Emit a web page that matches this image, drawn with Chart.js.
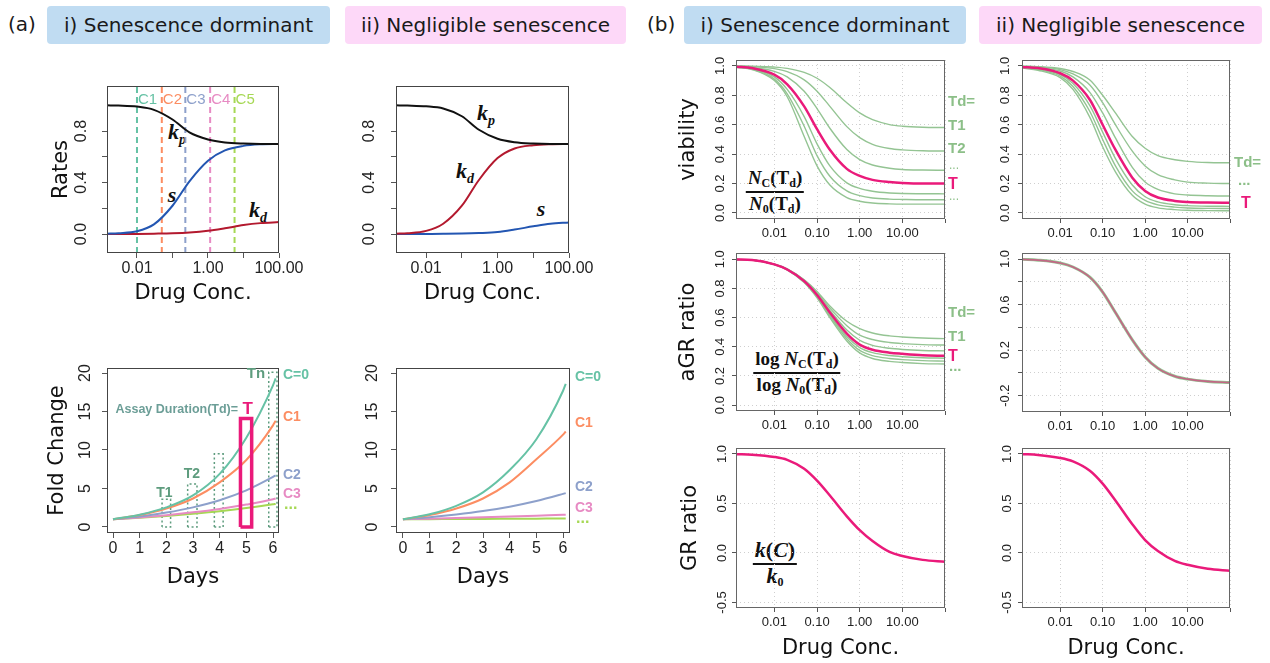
<!DOCTYPE html>
<html>
<head>
<meta charset="utf-8">
<script src="https://cdn.jsdelivr.net/npm/chart.js@4.4.0/dist/chart.umd.min.js"></script>
<style>
  body { margin: 0; background: #fff; }
  #fig { position: relative; width: 1270px; height: 663px; overflow: hidden; font-family: 'DejaVu Sans', sans-serif; color: #1a1a1a; }
  .tag { position: absolute; font-size: 20px; top: 12px; }
  .hdr { position: absolute; top: 6px; height: 38px; border-radius: 4px; font-size: 20px;
         display: flex; align-items: center; justify-content: center; white-space: nowrap; }
  .blue { background: #c0dcf2; }
  .pink { background: #fdd8f8; }
  .m { position: absolute; transform: translate(-50%, -50%); font-family: 'Liberation Serif', 'DejaVu Serif', serif;
       font-style: italic; font-weight: bold; font-size: 22px; color: #111; white-space: nowrap; }
  .m sub { font-size: 14px; vertical-align: -5px; }
  .frac { position: absolute; transform: translate(-50%, -50%); font-family: 'Liberation Serif', 'DejaVu Serif', serif;
          font-weight: bold; font-size: 19px; color: #111; text-align: center; white-space: nowrap; }
  .frac .row { display: block; height: 22px; line-height: 20px; padding: 0 2px; }
  .frac .bar { display: block; height: 2px; background: #111; margin: 1px 0; }
  .frac i { font-style: italic; }
  .frac sub { font-size: 12px; position: relative; top: 3px; vertical-align: baseline; line-height: 0; }
</style>
</head>
<body>
<div id="fig">
  <div class="tag" style="left:8px">(a)</div>
  <div class="hdr blue" style="left:47px;width:283px">i) Senescence dorminant</div>
  <div class="hdr pink" style="left:345px;width:281px">ii) Negligible senescence</div>
  <div class="tag" style="left:647px">(b)</div>
  <div class="hdr blue" style="left:684px;width:282px">i) Senescence dorminant</div>
  <div class="hdr pink" style="left:979px;width:283px">ii) Negligible senescence</div>

  <div class="m" style="left:177px;top:133px">k<sub>p</sub></div>
  <div class="m" style="left:172px;top:195px">s</div>
  <div class="m" style="left:258px;top:211px">k<sub>d</sub></div>
  <div class="m" style="left:486px;top:114px">k<sub>p</sub></div>
  <div class="m" style="left:465px;top:172px">k<sub>d</sub></div>
  <div class="m" style="left:541px;top:209px">s</div>

  <div class="frac" style="left:775px;top:192px">
    <span class="row"><i>N</i><sub>C</sub>(T<sub>d</sub>)</span>
    <span class="bar"></span>
    <span class="row"><i>N</i><sub>0</sub>(T<sub>d</sub>)</span>
  </div>
  <div class="frac" style="left:797px;top:373px">
    <span class="row">log <i>N</i><sub>C</sub>(T<sub>d</sub>)</span>
    <span class="bar"></span>
    <span class="row">log <i>N</i><sub>0</sub>(T<sub>d</sub>)</span>
  </div>
  <div class="frac" style="left:775px;top:564px;font-size:22px">
    <span class="row"><i>k</i>(<i>C</i>)</span>
    <span class="bar"></span>
    <span class="row"><i>k</i><sub>0</sub></span>
  </div>
</div>

<script>
// ---------- (a) rates vs drug concentration ----------
const CONC_A = [0.0014, 0.003, 0.01, 0.03, 0.1, 0.3, 1, 3, 10, 30, 100];
const KP_I  = [1.0, 0.998, 0.99, 0.965, 0.89, 0.79, 0.735, 0.712, 0.703, 0.70, 0.70];
const S_I   = [0.003, 0.007, 0.022, 0.075, 0.22, 0.41, 0.57, 0.65, 0.685, 0.697, 0.70];
const KD_I  = [0.0, 0.0, 0.001, 0.003, 0.006, 0.012, 0.025, 0.045, 0.07, 0.085, 0.093];
const KP_II = [1.0, 0.998, 0.992, 0.975, 0.915, 0.81, 0.74, 0.713, 0.703, 0.70, 0.70];
const KD_II = [0.003, 0.007, 0.025, 0.08, 0.22, 0.42, 0.59, 0.665, 0.69, 0.698, 0.70];
const S_II  = [0.0, 0.0, 0.001, 0.002, 0.004, 0.008, 0.016, 0.035, 0.06, 0.08, 0.09];
const C_LINES = [0.01, 0.05, 0.23, 1.15, 5.6];
const C_NAMES = ['C1', 'C2', 'C3', 'C4', 'C5'];

// ---------- (a) fold change vs days ----------
const DAYS = [0, 1, 2, 3, 4, 5, 6, 6.1];
const FC_I_C0 = [1, 1.6, 2.55, 4.1, 6.9, 11.6, 18.4, 19.3];
const FC_I_C1 = [1, 1.55, 2.4, 3.7, 5.8, 8.7, 13.2, 13.8];
const FC_I_C2 = [1, 1.37, 1.87, 2.55, 3.48, 4.76, 6.5, 6.7];
const FC_I_C3 = [1, 1.24, 1.53, 1.9, 2.35, 2.91, 3.6, 3.7];
const FC_I_C4 = [1, 1.2, 1.43, 1.72, 2.05, 2.46, 2.94, 3.0];
const FC_II_C0 = [1, 1.65, 2.75, 4.5, 7.4, 11.4, 17.7, 18.6];
const FC_II_C1 = [1, 1.55, 2.4, 3.7, 5.8, 8.8, 12.0, 12.4];
const FC_II_C2 = [1, 1.28, 1.63, 2.07, 2.64, 3.37, 4.3, 4.4];
const FC_II_C3 = [1, 1.08, 1.17, 1.26, 1.36, 1.47, 1.59, 1.6];
const FC_II_C4 = [1, 1.02, 1.03, 1.05, 1.065, 1.08, 1.1, 1.1];
const BOX_LEFT  = [1.84, 2.8, 3.8, 4.78, 5.84];
const BOX_RIGHT = [2.16, 3.15, 4.13, 5.2, 6.15];
const BOX_TOP   = [3.6, 5.6, 9.5, 14.1, 20.1];

// ---------- (b) viability / aGR / GR ----------
const CONC_B = [0.0013, 0.003, 0.01, 0.02, 0.05, 0.1, 0.2, 0.5, 1, 2, 5, 10, 30, 100];
const VIAB_I_T1 = [0.999, 0.998, 0.992, 0.983, 0.956, 0.916, 0.853, 0.749, 0.68, 0.634, 0.601, 0.59, 0.583, 0.581];
const VIAB_I_T2 = [0.998, 0.995, 0.981, 0.961, 0.905, 0.828, 0.725, 0.587, 0.512, 0.467, 0.438, 0.429, 0.423, 0.421];
const VIAB_I_T3 = [0.996, 0.99, 0.963, 0.925, 0.827, 0.71, 0.576, 0.431, 0.363, 0.326, 0.304, 0.296, 0.292, 0.29];
const VIAB_I_T  = [0.994, 0.985, 0.94, 0.875, 0.725, 0.57, 0.43, 0.30, 0.252, 0.225, 0.21, 0.204, 0.2, 0.2];
const VIAB_I_T5 = [0.992, 0.982, 0.925, 0.84, 0.655, 0.47, 0.32, 0.205, 0.167, 0.148, 0.136, 0.132, 0.131, 0.13];
const VIAB_I_T6 = [0.99, 0.978, 0.91, 0.81, 0.59, 0.39, 0.25, 0.15, 0.118, 0.102, 0.094, 0.092, 0.09, 0.09];
const VIAB_I_T7 = [0.99, 0.975, 0.90, 0.79, 0.52, 0.32, 0.19, 0.105, 0.08, 0.068, 0.062, 0.06, 0.06, 0.06];
const VIAB_II_T1 = [0.998, 0.995, 0.982, 0.962, 0.904, 0.80, 0.68, 0.52, 0.44, 0.39, 0.362, 0.351, 0.343, 0.341];
const VIAB_II_T2 = [0.997, 0.993, 0.975, 0.945, 0.87, 0.75, 0.60, 0.42, 0.32, 0.26, 0.225, 0.21, 0.203, 0.2];
const VIAB_II_T3 = [0.995, 0.99, 0.965, 0.925, 0.82, 0.68, 0.51, 0.31, 0.21, 0.16, 0.13, 0.122, 0.117, 0.115];
const VIAB_II_T  = [0.993, 0.985, 0.95, 0.90, 0.77, 0.60, 0.43, 0.24, 0.15, 0.105, 0.082, 0.075, 0.071, 0.07];
const VIAB_II_T5 = [0.99, 0.98, 0.94, 0.88, 0.73, 0.55, 0.37, 0.19, 0.11, 0.075, 0.056, 0.05, 0.046, 0.045];
const VIAB_II_T6 = [0.99, 0.975, 0.93, 0.86, 0.69, 0.50, 0.32, 0.15, 0.085, 0.055, 0.04, 0.034, 0.031, 0.03];
const VIAB_II_T7 = [0.985, 0.97, 0.92, 0.84, 0.65, 0.45, 0.28, 0.12, 0.06, 0.035, 0.023, 0.018, 0.016, 0.015];
const AGR_I_T1 = [0.998, 0.995, 0.966, 0.935, 0.86, 0.78, 0.68, 0.575, 0.525, 0.495, 0.475, 0.467, 0.46, 0.456];
const AGR_I_T2 = [0.998, 0.995, 0.966, 0.933, 0.857, 0.77, 0.665, 0.545, 0.48, 0.45, 0.43, 0.422, 0.415, 0.412];
const AGR_I_T3 = [0.998, 0.995, 0.965, 0.932, 0.853, 0.762, 0.65, 0.515, 0.445, 0.41, 0.39, 0.382, 0.375, 0.372];
const AGR_I_T  = [0.998, 0.995, 0.965, 0.93, 0.85, 0.755, 0.635, 0.49, 0.415, 0.38, 0.36, 0.352, 0.342, 0.338];
const AGR_I_T5 = [0.998, 0.995, 0.965, 0.93, 0.847, 0.748, 0.62, 0.47, 0.395, 0.36, 0.34, 0.332, 0.325, 0.322];
const AGR_I_T6 = [0.998, 0.995, 0.964, 0.928, 0.843, 0.742, 0.61, 0.455, 0.375, 0.34, 0.32, 0.312, 0.305, 0.302];
const AGR_I_T7 = [0.998, 0.995, 0.964, 0.927, 0.84, 0.735, 0.60, 0.44, 0.358, 0.32, 0.30, 0.292, 0.285, 0.282];
const AGR_II = [0.997, 0.99, 0.965, 0.93, 0.84, 0.71, 0.53, 0.29, 0.14, 0.04, -0.03, -0.055, -0.075, -0.085];
const GR_I  = [0.998, 0.993, 0.97, 0.94, 0.85, 0.73, 0.58, 0.37, 0.23, 0.12, 0.01, -0.03, -0.07, -0.09];
const GR_II = [0.998, 0.99, 0.96, 0.925, 0.83, 0.70, 0.53, 0.29, 0.13, 0.02, -0.08, -0.12, -0.16, -0.18];

// ---------- ticks ----------
const LOG_TICKS = [0.01, 0.1, 1, 10, 100];
const LOG_LABELS_A = ['0.01', '', '1.00', '', '100.00'];
const LOG_LABELS_B = ['0.01', '0.10', '1.00', '10.00', ''];
const RATE_TICKS = [0, 0.2, 0.4, 0.6, 0.8];
const RATE_LABELS = ['0.0', '', '0.4', '', '0.8'];
const DAY_TICKS = [0, 1, 2, 3, 4, 5, 6];
const FC_TICKS = [0, 5, 10, 15, 20];
const UNIT_TICKS = [0, 0.2, 0.4, 0.6, 0.8, 1.0];
const UNIT_LABELS = ['0.0', '0.2', '0.4', '0.6', '0.8', '1.0'];
const AGR2_TICKS = [-0.2, 0, 0.2, 0.4, 0.6, 0.8, 1.0];
const AGR2_LABELS = ['-0.2', '', '0.2', '', '0.6', '', '1.0'];
const GR_TICKS = [-0.5, 0, 0.5, 1.0];
const GR_LABELS = ['-0.5', '0.0', '0.5', '1.0'];

const SET2 = ['#66c2a5', '#fc8d62', '#8da0cb', '#e78ac3', '#a6d854'];
const BLACK = '#111111', BLUE = '#2356b2', RED = '#b3192e';
const GREEN = '#94c493', PINK = '#ea1a7a', TGREEN = '#5e9c7e', LGREEN = '#8cbf88';
const TICK_FAMILY = "'Liberation Sans', Arial, sans-serif";
const TITLE_FONT = { family: "'DejaVu Sans', sans-serif", size: 21 };
const NOTE = "'Liberation Sans', Arial, sans-serif";

function pts(xs, ys) { return xs.map((x, i) => ({ x: x, y: ys[i] })); }
function curve(xs, ys, color, width) {
  return { data: pts(xs, ys), borderColor: color, borderWidth: width, pointRadius: 0, fill: false,
           cubicInterpolationMode: 'monotone' };
}
function segs(xs, ys, color, width, dash) {
  return { data: pts(xs, ys), borderColor: color, borderWidth: width, borderDash: dash || [],
           pointRadius: 0, fill: false, tension: 0 };
}
function widest(labels, size) {
  const c = document.createElement('canvas').getContext('2d');
  c.font = size + 'px ' + TICK_FAMILY;
  return Math.max.apply(null, labels.map(l => c.measureText(l).width));
}
function framePlugin(color) {
  return { id: 'frame', afterDatasetsDraw(chart) {
    const { ctx, chartArea: a } = chart;
    ctx.save();
    ctx.strokeStyle = color; ctx.lineWidth = 1;
    ctx.strokeRect(a.left + 0.5, a.top + 0.5, a.width - 1, a.height - 1);
    ctx.restore();
  } };
}
function notesPlugin(items) {
  return { id: 'notes', afterDatasetsDraw(chart) {
    const { ctx, chartArea: a, scales } = chart;
    items.forEach(n => {
      ctx.save();
      ctx.font = n.font; ctx.fillStyle = n.color;
      ctx.textAlign = n.align || 'left'; ctx.textBaseline = 'middle';
      const px = n.dx !== undefined ? a.right + n.dx : scales.x.getPixelForValue(n.x) + (n.ox || 0);
      ctx.fillText(n.text, px, scales.y.getPixelForValue(n.y));
      ctx.restore();
    });
  } };
}

function panel(o) {
  const cv = document.createElement('canvas');
  const left = o.box[0] - o.yW, top = o.box[1] - o.padTop;
  const w = o.box[2] - left + o.padRight, h = o.box[3] - top + o.xH;
  cv.width = w; cv.height = h;
  cv.style.cssText = 'position:absolute;left:' + left + 'px;top:' + top + 'px;width:' + w + 'px;height:' + h + 'px';
  document.getElementById('fig').appendChild(cv);
  const tickFont = { family: TICK_FAMILY, size: o.tickSize };
  const yPad = o.yGap - widest(o.yLabels, o.tickSize) / 2;
  const gridColor = o.grid ? '#cfcfcf' : 'rgba(0,0,0,0)';
  new Chart(cv, {
    type: 'line',
    data: { datasets: o.datasets },
    options: {
      responsive: false, maintainAspectRatio: false, animation: false, events: [],
      layout: { padding: { top: o.padTop, right: o.padRight, left: 0, bottom: 0 } },
      plugins: { legend: { display: false }, tooltip: { enabled: false } },
      scales: {
        x: {
          type: o.xType, min: o.xRange[0], max: o.xRange[1],
          afterBuildTicks: s => { s.ticks = o.xTicks.map(v => ({ value: v })); },
          afterFit: s => { s.height = o.xH; s.paddingLeft = 0; s.paddingRight = 0; },
          ticks: { autoSkip: false, minRotation: 0, maxRotation: 0, padding: o.xPad, font: tickFont, color: '#222',
                   callback: (v, i) => o.xLabels[i] },
          grid: { drawOnChartArea: !!o.grid, color: gridColor, lineWidth: 1, tickLength: o.tl,
                  tickColor: '#555', tickWidth: 1 },
          border: { display: false, dash: [1, 3] },
          title: { display: !!o.xTitle, text: o.xTitle || '', font: TITLE_FONT, color: '#111', padding: 0 }
        },
        y: {
          type: 'linear', min: o.yRange[0], max: o.yRange[1],
          afterBuildTicks: s => { s.ticks = o.yTicks.map(v => ({ value: v })); },
          afterFit: s => { s.width = o.yW; s.paddingTop = 0; s.paddingBottom = 0; },
          ticks: { autoSkip: false, minRotation: 90, maxRotation: 90, crossAlign: 'center', padding: yPad,
                   font: tickFont, color: '#222', callback: (v, i) => o.yLabels[i] },
          grid: { drawOnChartArea: !!o.grid, color: gridColor, lineWidth: 1, tickLength: o.tl,
                  tickColor: '#555', tickWidth: 1 },
          border: { display: false, dash: [1, 3] },
          title: { display: !!o.yTitle, text: o.yTitle || '', font: TITLE_FONT, color: '#111', padding: 0 }
        }
      }
    },
    plugins: [framePlugin(o.frame), notesPlugin(o.notes || [])]
  });
}

const A_X = [0.00143, 100];
const RATE_Y = [-0.147, 1.15];
const FC_Y = [-0.78, 20.65];
const B_X = [0.00126, 100];

const aRate = { xType: 'logarithmic', xRange: A_X, xTicks: LOG_TICKS, xLabels: LOG_LABELS_A, yRange: RATE_Y,
                yTicks: RATE_TICKS, yLabels: RATE_LABELS, tickSize: 16, tl: 5, xPad: 1, xH: 53, padTop: 10,
                frame: '#444', xTitle: 'Drug Conc.' };
const aFold = { xType: 'linear', xTicks: DAY_TICKS, xLabels: DAY_TICKS.map(String), yRange: FC_Y,
                yTicks: FC_TICKS, yLabels: FC_TICKS.map(String), tickSize: 16, tl: 5, xPad: 1, xH: 57, padTop: 10,
                frame: '#444', xTitle: 'Days' };
const bBase = { xType: 'logarithmic', xRange: B_X, xTicks: LOG_TICKS, xLabels: LOG_LABELS_B, tickSize: 13,
                tl: 4, xPad: 3, xH: 32, padTop: 5, frame: '#666', grid: true };

// (a) i  rates
panel(Object.assign({}, aRate, {
  box: [107, 86, 279, 253], yW: 58, padRight: 30, yGap: 20, yTitle: 'Rates',
  datasets: [
    curve(CONC_A, KP_I, BLACK, 2), curve(CONC_A, S_I, BLUE, 2), curve(CONC_A, KD_I, RED, 2)
  ].concat(C_LINES.map((c, i) => segs([c, c], RATE_Y, SET2[i], 2, [6, 4]))),
  notes: C_NAMES.map((t, i) => ({ text: t, x: C_LINES[i], ox: 1, y: 1.046, color: SET2[i],
                                   font: '15px ' + NOTE }))
}));
// (a) ii rates
panel(Object.assign({}, aRate, {
  box: [396, 86, 569, 253], yW: 40, padRight: 30, yGap: 21,
  datasets: [curve(CONC_A, KP_II, BLACK, 2), curve(CONC_A, KD_II, RED, 2), curve(CONC_A, S_II, BLUE, 2)]
}));
// (a) i fold change
panel(Object.assign({}, aFold, {
  box: [107, 368, 279, 533], yW: 62, padRight: 45, yGap: 16, xRange: [-0.225, 6.225], yTitle: 'Fold Change',
  datasets: [
    segs([BOX_LEFT[3], BOX_LEFT[3], BOX_RIGHT[3], BOX_RIGHT[3], BOX_LEFT[3]], [0, BOX_TOP[3], BOX_TOP[3], 0, 0], PINK, 3.5),
    curve(DAYS, FC_I_C0, SET2[0], 2), curve(DAYS, FC_I_C1, SET2[1], 2), curve(DAYS, FC_I_C2, SET2[2], 2),
    curve(DAYS, FC_I_C3, SET2[3], 2), curve(DAYS, FC_I_C4, SET2[4], 2)
  ].concat([0, 1, 2, 4].map(i => segs([BOX_LEFT[i], BOX_LEFT[i], BOX_RIGHT[i], BOX_RIGHT[i], BOX_LEFT[i]],
                                       [0, BOX_TOP[i], BOX_TOP[i], 0, 0], TGREEN, 1.5, [2, 2.5]))),
  notes: [
    { text: 'T1', x: 1.93, y: 4.4, align: 'center', color: TGREEN, font: 'bold 14px ' + NOTE },
    { text: 'T2', x: 2.96, y: 6.9, align: 'center', color: TGREEN, font: 'bold 14px ' + NOTE },
    { text: 'Tn', x: 5.36, y: 19.9, align: 'center', color: TGREEN, font: 'bold 15px ' + NOTE },
    { text: 'Assay Duration(Td)=', x: 4.69, y: 15.3, align: 'right', color: '#6c9e97',
      font: "bold 12.5px 'Liberation Sans Narrow', 'Liberation Sans', sans-serif" },
    { text: 'T', x: 4.86, y: 15.3, color: PINK, font: 'bold 17px ' + NOTE },
    { text: 'C=0', dx: 4, y: 19.7, color: SET2[0], font: 'bold 14px ' + NOTE },
    { text: 'C1', dx: 4, y: 14.3, color: SET2[1], font: 'bold 14px ' + NOTE },
    { text: 'C2', dx: 4, y: 6.75, color: SET2[2], font: 'bold 14px ' + NOTE },
    { text: 'C3', dx: 4, y: 4.3, color: SET2[3], font: 'bold 14px ' + NOTE },
    { text: '...', dx: 5, y: 2.9, color: SET2[4], font: 'bold 16px ' + NOTE }
  ]
}));
// (a) ii fold change
panel(Object.assign({}, aFold, {
  box: [396, 368, 570, 533], yW: 40, padRight: 50, yGap: 18, xRange: [-0.26, 6.26],
  datasets: [
    curve(DAYS, FC_II_C0, SET2[0], 2), curve(DAYS, FC_II_C1, SET2[1], 2), curve(DAYS, FC_II_C2, SET2[2], 2),
    curve(DAYS, FC_II_C3, SET2[3], 2), curve(DAYS, FC_II_C4, SET2[4], 2)
  ],
  notes: [
    { text: 'C=0', dx: 5, y: 19.5, color: SET2[0], font: 'bold 14px ' + NOTE },
    { text: 'C1', dx: 5, y: 13.5, color: SET2[1], font: 'bold 14px ' + NOTE },
    { text: 'C2', dx: 5, y: 5.2, color: SET2[2], font: 'bold 14px ' + NOTE },
    { text: 'C3', dx: 5, y: 2.5, color: SET2[3], font: 'bold 14px ' + NOTE },
    { text: '...', dx: 6, y: 1.1, color: SET2[4], font: 'bold 16px ' + NOTE }
  ]
}));

const gNote = (t, dx, y) => ({ text: t, dx: dx, y: y, color: LGREEN, font: 'bold 15px ' + NOTE });
const tNote = (dx, y) => ({ text: 'T', dx: dx, y: y, color: PINK, font: 'bold 16px ' + NOTE });

// (b) i viability
panel(Object.assign({}, bBase, {
  box: [736, 60, 945, 219], yW: 60, padRight: 40, yGap: 12, yRange: [-0.041, 1.04],
  yTicks: UNIT_TICKS, yLabels: UNIT_LABELS, yTitle: 'viability',
  datasets: [curve(CONC_B, VIAB_I_T, PINK, 2.5)].concat(
    [VIAB_I_T1, VIAB_I_T2, VIAB_I_T3, VIAB_I_T5, VIAB_I_T6, VIAB_I_T7].map(v => curve(CONC_B, v, GREEN, 1.4))),
  notes: [gNote('Td=', 3, 0.755), gNote('T1', 3, 0.59), gNote('T2', 3, 0.435),
          { text: '...', dx: 4, y: 0.32, color: LGREEN, font: '12px ' + NOTE }, tNote(3, 0.19),
          { text: '...', dx: 4, y: 0.11, color: LGREEN, font: '12px ' + NOTE }]
}));
// (b) ii viability
panel(Object.assign({}, bBase, {
  box: [1022, 60, 1230, 219], yW: 40, padRight: 38, yGap: 13, yRange: [-0.041, 1.04],
  yTicks: UNIT_TICKS, yLabels: UNIT_LABELS,
  datasets: [curve(CONC_B, VIAB_II_T, PINK, 2.5)].concat(
    [VIAB_II_T1, VIAB_II_T2, VIAB_II_T3, VIAB_II_T5, VIAB_II_T6, VIAB_II_T7].map(v => curve(CONC_B, v, GREEN, 1.4))),
  notes: [gNote('Td=', 4, 0.34), { text: '...', dx: 8, y: 0.215, color: LGREEN, font: 'bold 15px ' + NOTE },
          tNote(11, 0.066)]
}));
// (b) i aGR ratio
panel(Object.assign({}, bBase, {
  box: [736, 253, 945, 411], yW: 60, padRight: 40, yGap: 12, yRange: [-0.04, 1.043],
  yTicks: UNIT_TICKS, yLabels: UNIT_LABELS, yTitle: 'aGR ratio',
  datasets: [curve(CONC_B, AGR_I_T, PINK, 2.5)].concat(
    [AGR_I_T1, AGR_I_T2, AGR_I_T3, AGR_I_T5, AGR_I_T6, AGR_I_T7].map(v => curve(CONC_B, v, GREEN, 1.4))),
  notes: [gNote('Td=', 3, 0.63), gNote('T1', 3, 0.465), tNote(3, 0.336),
          { text: '...', dx: 4, y: 0.26, color: LGREEN, font: 'bold 15px ' + NOTE }]
}));
// (b) ii aGR ratio
panel(Object.assign({}, bBase, {
  box: [1022, 253, 1230, 412], yW: 40, padRight: 15, yGap: 13, yRange: [-0.344, 1.053],
  yTicks: AGR2_TICKS, yLabels: AGR2_LABELS,
  datasets: [curve(CONC_B, AGR_II, 'rgba(234,26,122,0.55)', 1.6), curve(CONC_B, AGR_II, GREEN, 3)]
}));
// (b) i GR ratio
panel(Object.assign({}, bBase, {
  box: [736, 448, 945, 608], yW: 58, padRight: 15, yGap: 10, yRange: [-0.556, 1.06], xH: 53,
  yTicks: GR_TICKS, yLabels: GR_LABELS, yTitle: 'GR ratio', xTitle: 'Drug Conc.',
  datasets: [curve(CONC_B, GR_I, PINK, 2.5)]
}));
// (b) ii GR ratio
panel(Object.assign({}, bBase, {
  box: [1022, 448, 1230, 608], yW: 40, padRight: 15, yGap: 11, yRange: [-0.556, 1.06], xH: 53,
  yTicks: GR_TICKS, yLabels: GR_LABELS, xTitle: 'Drug Conc.',
  datasets: [curve(CONC_B, GR_II, PINK, 2.5)]
}));
</script>
</body>
</html>
